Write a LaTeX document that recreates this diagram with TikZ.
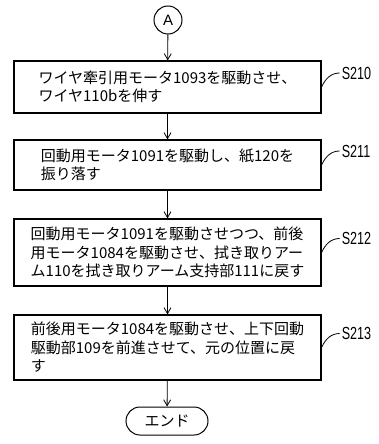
\documentclass[tikz,border=0pt]{standalone}
\usepackage{fontspec}
\usepackage{graphicx}
\newfontfamily\jpfont{Noto Sans CJK JP}
\newfontfamily\labfont{Liberation Sans}
\usetikzlibrary{arrows.meta}
\begin{document}
\begin{tikzpicture}[x=1pt,y=-1pt,
  stepbox/.style={draw, line width=1.2pt, minimum width=307pt, inner sep=0pt,
    align=left, font=\jpfont\fontsize{15}{18.5}\selectfont},
  steplabel/.style={anchor=west, inner sep=0pt, font=\labfont\fontsize{17.5}{17.5}\selectfont},
  flow/.style={line width=0.8pt, -{Straight Barb[length=6pt,width=7pt]}},
  tick/.style={line width=0.8pt}
]
\useasboundingbox (0,0) rectangle (378,444);
\node[draw, circle, line width=1pt, minimum size=28pt, inner sep=0pt,
  font=\labfont\fontsize{15}{15}\selectfont] (a) at (168,20) {A};
\node[stepbox, minimum height=52pt] (b1) at (167.5,87)
  {ワイヤ牽引用モータ1093を駆動させ、\\ワイヤ110bを伸す};
\node[stepbox, minimum height=50pt] (b2) at (167.5,165)
  {回動用モータ1091を駆動し、紙120を\\振り落す};
\node[stepbox, minimum height=67pt] (b3) at (167.5,252.5)
  {回動用モータ1091を駆動させつつ、前後\\用モータ1084を駆動させ、拭き取りアー\\ム110を拭き取りアーム支持部111に戻す};
\node[stepbox, minimum height=65pt] (b4) at (167.5,347.5)
  {前後用モータ1084を駆動させ、上下回動\\駆動部109を前進させて、元の位置に戻\\す};
\node[draw, line width=1pt, minimum width=82pt, minimum height=28pt, rounded corners=14pt,
  inner sep=0pt, font=\jpfont\fontsize{15}{15}\selectfont] (e) at (167,421) {エンド};
\draw[flow] (a) -- (b1);
\draw[flow] (b1) -- (b2);
\draw[flow] (b2) -- (b3);
\draw[flow] (b3) -- (b4);
\draw[flow] (b4) -- (e);
\foreach \b/\t in {b1/S210, b2/S211, b3/S212, b4/S213} {
  \node[steplabel] (l\b) at ([shift={(20pt,14pt)}]\b.east) {\scalebox{0.72}[1]{\t}};
  \draw[tick] (\b.east) .. controls +(4,-9) and +(-8,0) .. ([xshift=-2pt]l\b.west);
}
\end{tikzpicture}
\end{document}
